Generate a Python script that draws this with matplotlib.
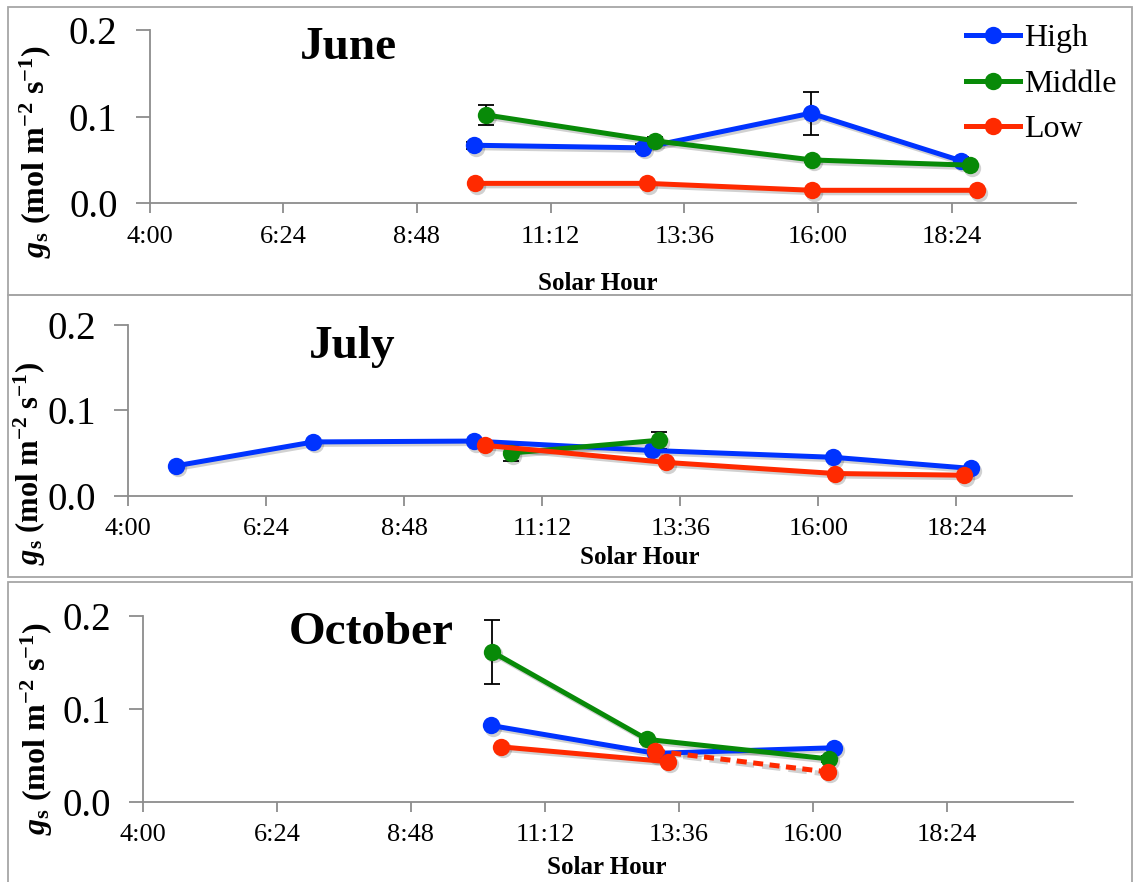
import matplotlib
matplotlib.use('Agg')
import matplotlib.pyplot as plt
from matplotlib.patches import Rectangle
from matplotlib.transforms import offset_copy

plt.rcParams['font.family'] = 'Liberation Serif'
plt.rcParams['mathtext.fontset'] = 'custom'
plt.rcParams['mathtext.rm'] = 'Liberation Serif'
plt.rcParams['mathtext.it'] = 'Liberation Serif:italic'
plt.rcParams['mathtext.bf'] = 'Liberation Serif:bold'
try:
    plt.rcParams['mathtext.bfit'] = 'Liberation Serif:bold:italic'
    g_txt = r'$\mathbfit{g}_{\mathbf{s}}$'
except KeyError:
    g_txt = r'$\mathbf{g_s}$'

# solar hour (decimal hours) and g_s values
x_ticks = [4.0, 6.4, 8.8, 11.2, 13.6, 16.0, 18.4]
x_labels = ['4:00', '6:24', '8:48', '11:12', '13:36', '16:00', '18:24']
y_ticks = [0.0, 0.1, 0.2]
y_labels = ['0.0', '0.1', '0.2']

# June
jun_high_t = [9.82, 12.86, 15.87, 18.57]
jun_high = [0.067, 0.064, 0.104, 0.049]
jun_high_err = [0.004, 0.004, 0.025, 0.004]
jun_mid_t = [10.04, 13.08, 15.90, 18.72]
jun_mid = [0.102, 0.072, 0.050, 0.044]
jun_mid_err = [0.012, 0.005, 0.002, 0.004]
jun_low_t = [9.84, 12.93, 15.90, 18.85]
jun_low = [0.023, 0.023, 0.015, 0.015]

# July
jul_high_t = [4.83, 7.22, 10.01, 13.10, 16.26, 18.65]
jul_high = [0.035, 0.063, 0.064, 0.053, 0.045, 0.032]
jul_mid_t = [10.66, 13.23]
jul_mid = [0.050, 0.065]
jul_mid_err = [0.009, 0.010]
jul_low_t = [10.20, 13.35, 16.29, 18.53]
jul_low = [0.059, 0.039, 0.026, 0.024]

# October
oct_high_t = [10.23, 13.18, 16.38]
oct_high = [0.082, 0.052, 0.058]
oct_mid_t = [10.26, 13.03, 16.29]
oct_mid = [0.161, 0.067, 0.046]
oct_mid_err = [0.034, 0.003, 0.003]
oct_low_t = [10.41, 13.41]
oct_low = [0.059, 0.043]
oct_low2_t = [13.17, 16.27]
oct_low2 = [0.0545, 0.032]

c_high = '#0033ff'
c_mid = '#088a08'
c_low = '#ff2a00'

W, H = 1134, 882
fig = plt.figure(figsize=(W / 100, H / 100), dpi=100)


def px_axes(x0, x1, y_top, y_bot):
    return fig.add_axes([x0 / W, 1 - y_bot / H, (x1 - x0) / W, (y_bot - y_top) / H])


def series(ax, t, v, color, err=None, ls='-', label=None):
    shadow = offset_copy(ax.transData, fig=fig, x=2, y=-2.5, units='dots')
    ax.plot(t, v, color='k', alpha=0.18, lw=3.6, ls=ls, marker='o', ms=12.5,
            mew=0, transform=shadow, zorder=1)
    if err is not None:
        ax.errorbar(t, v, yerr=err, fmt='none', ecolor='k', elinewidth=1.3,
                    capsize=6, capthick=1.3, zorder=2)
    line, = ax.plot(t, v, color=color, lw=3.6, ls=ls, marker='o', ms=12.5,
                    mew=0, zorder=3, label=label)
    if ls != '-':
        line.set_dashes((2.0, 1.3))
    return line


def style(ax, xmax):
    ax.set_xlim(4, xmax)
    ax.set_ylim(0, 0.2)
    ax.set_xticks(x_ticks)
    ax.set_xticklabels(x_labels)
    ax.set_yticks(y_ticks)
    ax.set_yticklabels(y_labels)
    ax.spines['top'].set_visible(False)
    ax.spines['right'].set_visible(False)
    for s in ['left', 'bottom']:
        ax.spines[s].set_color('#8c8c8c')
        ax.spines[s].set_linewidth(1.3)
    ax.tick_params(axis='y', length=10, width=1.3, color='#8c8c8c', labelsize=28, pad=13)
    ax.tick_params(axis='x', length=7, width=1.3, color='#8c8c8c', labelsize=19, pad=9)
    ax.patch.set_alpha(0)


# panel frames
for top, bot in [(7, 295), (295, 577), (582, 895)]:
    fig.patches.append(Rectangle((8 / W, 1 - bot / H), (1132 - 8) / W, (bot - top) / H,
                                 transform=fig.transFigure, fill=False,
                                 ec='#a6a6a6', lw=1.3))

ylab = g_txt + r' (mol m$^{\mathbf{-2}}$ s$^{\mathbf{-1}}$)'

# June
ax1 = px_axes(149.5, 1076, 30, 203.3)
series(ax1, jun_high_t, jun_high, c_high, jun_high_err, label='High')
series(ax1, jun_mid_t, jun_mid, c_mid, jun_mid_err, label='Middle')
series(ax1, jun_low_t, jun_low, c_low, label='Low')
style(ax1, 20.63)
ax1.legend(loc='upper left', bbox_to_anchor=(966 / W, 1 - 24 / H),
           bbox_transform=fig.transFigure, frameon=False, fontsize=23,
           handlelength=1.7, handletextpad=0.12, labelspacing=0.5,
           borderpad=0, borderaxespad=0)
fig.text(348 / W, 1 - 48 / H, 'June', fontsize=34, fontweight='bold', ha='center', va='center')
fig.text(598 / W, 1 - 283 / H, 'Solar Hour', fontsize=18, fontweight='bold', ha='center', va='center')
fig.text(36 / W, 1 - 152 / H, ylab, fontsize=23, fontweight='bold', rotation=90,
         ha='center', va='center')

# July
ax2 = px_axes(128.3, 1072, 325, 495.7)
series(ax2, jul_high_t, jul_high, c_high)
series(ax2, jul_mid_t, jul_mid, c_mid, jul_mid_err)
series(ax2, jul_low_t, jul_low, c_low)
style(ax2, 20.41)
fig.text(352 / W, 1 - 347 / H, 'July', fontsize=34, fontweight='bold', ha='center', va='center')
fig.text(640 / W, 1 - 558 / H, 'Solar Hour', fontsize=18, fontweight='bold', ha='center', va='center')
fig.text(30 / W, 1 - 463 / H, ylab, fontsize=22, fontweight='bold', rotation=90,
         ha='center', va='center')

# October
ax3 = px_axes(143, 1073, 615.7, 801.7)
series(ax3, oct_high_t, oct_high, c_high)
series(ax3, oct_mid_t, oct_mid, c_mid, oct_mid_err)
series(ax3, oct_low_t, oct_low, c_low)
series(ax3, oct_low2_t, oct_low2, c_low, ls='--')
style(ax3, 20.66)
fig.text(371 / W, 1 - 633 / H, 'October', fontsize=34, fontweight='bold', ha='center', va='center')
fig.text(607 / W, 1 - 868 / H, 'Solar Hour', fontsize=18, fontweight='bold', ha='center', va='center')
fig.text(37 / W, 1 - 729 / H, ylab, fontsize=23, fontweight='bold', rotation=90,
         ha='center', va='center')

fig.savefig('out.png', dpi=100)
